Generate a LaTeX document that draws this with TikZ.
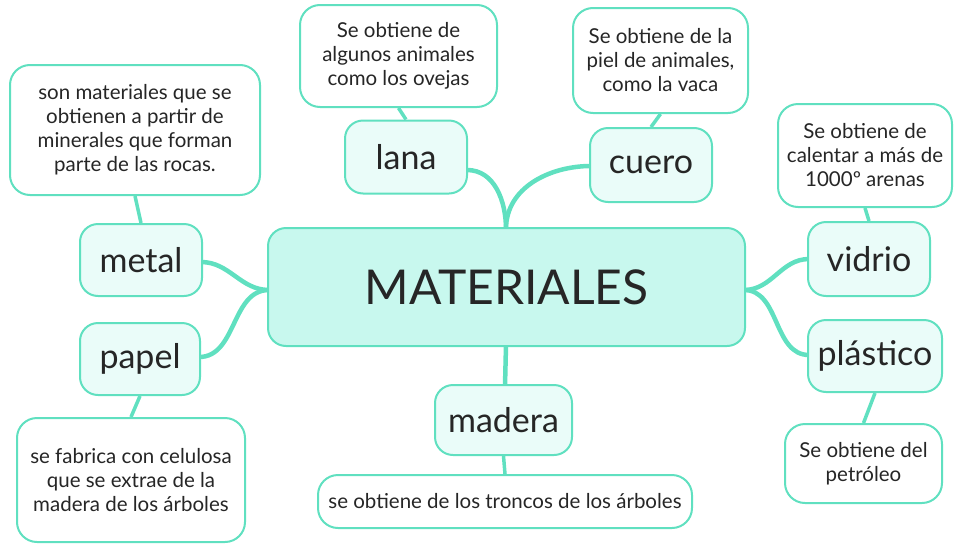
\documentclass[tikz,border=0pt]{standalone}
\usepackage{fontspec}
\setmainfont{Lato}
\usepackage{tikz}
\definecolor{mintline}{RGB}{96,224,192}
\definecolor{mintfill}{RGB}{200,248,238}
\definecolor{mintpale}{RGB}{234,252,249}

\begin{document}
\begin{tikzpicture}[x=1pt, y=-1pt,
                every node/.style={draw=mintline, line width=2pt, align=center, inner sep=0pt, text=black!85}, % boxes
                topic/.style={fill=mintfill, rounded corners=18pt, minimum width=477pt, minimum height=118pt, font=\fontsize{48}{54}\selectfont}, % centre
                material/.style={fill=mintpale, rounded corners=18pt, minimum height=72pt, font=\fontsize{34}{38}\selectfont}, % children
                note/.style={fill=white, rounded corners=20pt, font=\fontsize{20.5}{24}\selectfont}, % notes
                branch/.style={draw=mintline, line width=4.5pt}, % thick links
                twig/.style={draw=mintline, line width=3.5pt} % note links
                ]
                \useasboundingbox (0,0) rectangle (955,544);
                % links first, boxes on top
                \coordinate (top) at (506,229);
                \coordinate (left) at (269,290);
                \coordinate (right) at (744,290);
                \coordinate (bottom) at (506,345);
                \draw[branch] (top) to[out=90,in=0] (467,170) coordinate (lanaend);
                \draw[branch] (top) to[out=90,in=180] (591,166) coordinate (cueroend);
                \draw[branch] (left) to[out=180,in=0] (201,262) coordinate (metalend);
                \draw[branch] (left) to[out=180,in=0] (199,357) coordinate (papelend);
                \draw[branch] (right) to[out=0,in=180] (809,259) coordinate (vidrioend);
                \draw[branch] (right) to[out=0,in=180] (809,355) coordinate (plasticoend);
                \draw[branch] (bottom) -- (505,386) coordinate (maderaend);

                \node[topic] (materiales) at (506.5,287) {MATERIALES};
                \node[material, minimum width=122pt] (metal) at (141,260) {metal};
                \node[material, minimum width=120pt] (papel) at (140,359) {papel};
                \node[material, minimum width=122pt, minimum height=73pt] (lana) at (406,157) {lana};
                \node[material, minimum width=122pt, minimum height=74pt] (cuero) at (651,165) {cuero};
                \node[material, minimum width=122pt, minimum height=74pt] (vidrio) at (869,259) {vidrio};
                \node[material, minimum width=134pt] (plastico) at (875,356) {plástico};
                \node[material, minimum width=137pt, minimum height=70pt] (madera) at (503.5,420) {madera};

                \node[note, minimum width=250pt, minimum height=130pt] (metalnote) at (135,130) {son materiales que se\\obtienen a partir de\\minerales que forman\\parte de las rocas.};
                \node[note, minimum width=228pt, minimum height=124pt] (papelnote) at (131,480) {se fabrica con celulosa\\que se extrae de la\\madera de los árboles};
                \node[note, minimum width=197pt, minimum height=102pt] (lananote) at (398.5,56) {Se obtiene de\\algunos animales\\como los ovejas};
                \node[note, minimum width=175pt, minimum height=105pt] (cueronote) at (660.5,60.5) {Se obtiene de la\\piel de animales,\\como la vaca};
                \node[note, minimum width=174pt, minimum height=103pt] (vidrionote) at (865,155.5) {Se obtiene de\\calentar a más de\\1000º arenas};
                \node[note, minimum width=157pt, minimum height=79pt] (plasticonote) at (863.5,463.5) {Se obtiene del\\petróleo};
                \node[note, minimum width=374pt, minimum height=53pt] (maderanote) at (505,501.5) {se obtiene de los troncos de los árboles};

                \draw[twig] (metal.north) -- (metalnote.south);
                \draw[twig] (papel.south) -- (papelnote.north);
                \draw[twig] (lana.north) -- (lananote.south);
                \draw[twig] (cuero.north) -- (cueronote.south);
                \draw[twig] (vidrio.north) -- (vidrionote.south);
                \draw[twig] (plastico.south) -- (plasticonote.north);
                \draw[twig] (madera.south) -- (maderanote.north);
            \end{tikzpicture}
\end{document}
